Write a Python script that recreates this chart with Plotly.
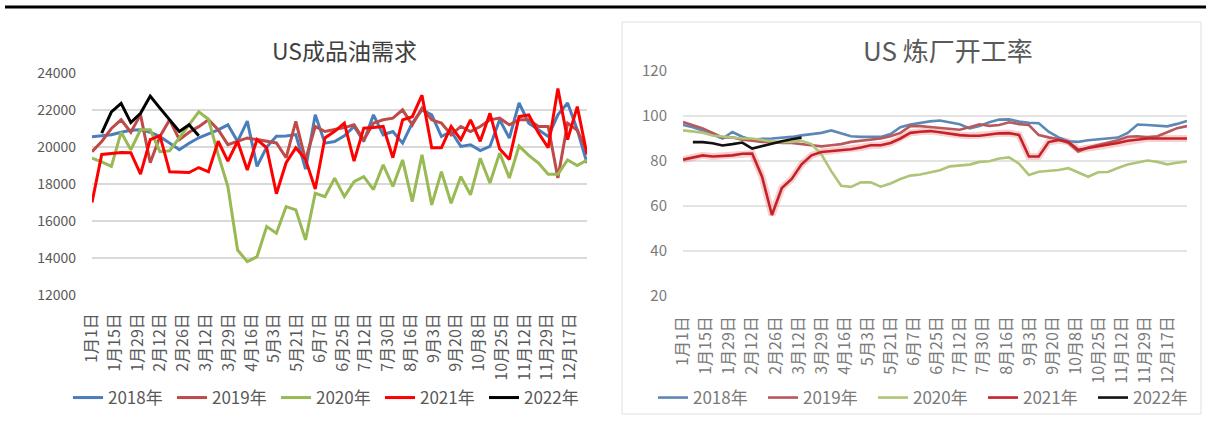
import plotly.graph_objects as go

W, H = 1206, 421

# ---------------- data ----------------
date_labels = ["1月1日", "1月15日", "1月29日", "2月12日", "2月26日", "3月12日", "3月29日",
               "4月16日", "5月3日", "5月21日", "6月7日", "6月25日", "7月12日", "7月30日",
               "8月16日", "9月3日", "9月20日", "10月8日", "10月25日", "11月12日",
               "11月29日", "12月17日"]
series_names = ["2018年", "2019年", "2020年", "2021年", "2022年"]

# US成品油需求
demand_2018 = [20550, 20600, 20660, 20800, 20900, 20930, 20800, 20570, 20200, 19850,
               20200, 20500, 20710, 20930, 21200, 20300, 21400, 18950, 20000, 20580,
               20600, 20670, 18800, 21740, 20210, 20300, 20600, 21110, 20300, 21740,
               20660, 20840, 20210, 21290, 22010, 21740, 20570, 20840, 20030, 20120,
               19810, 20030, 21470, 20480, 22380, 21290, 20930, 20570, 21740, 22380,
               20930, 19130]
demand_2019 = [19750, 20300, 21000, 21470, 20800, 21750, 19150, 20570, 21470, 20400,
               20800, 21100, 21470, 20930, 20130, 20310, 20490, 20400, 20300, 20220,
               19420, 21380, 19310, 21110, 20840, 20930, 21050, 21200, 20390, 21290,
               21470, 21560, 22010, 21200, 22100, 21470, 21290, 20660, 21110, 20840,
               21110, 21470, 21560, 21200, 21470, 21470, 21110, 21110, 18320, 21290,
               20900, 19760]
demand_2020 = [19400, 19200, 18950, 20800, 19850, 20930, 20930, 19750, 19800, 20500,
               21200, 21900, 21500, 19580, 17860, 14430, 13800, 14070, 15700, 15340,
               16780, 16600, 14980, 17500, 17320, 18320, 17320, 18130, 18400, 17700,
               19040, 17870, 19300, 17050, 19580, 16870, 18670, 16960, 18400, 17410,
               19390, 18050, 19670, 18320, 20050, 19550, 19130, 18530, 18530, 19300,
               19000, 19300]
demand_2021 = [17000, 19600, 19650, 19700, 19690, 18530, 20400, 20610, 18660, 18650,
               18620, 18890, 18660, 20310, 19240, 20310, 18760, 20400, 19955, 17470,
               19150, 19955, 19330, 17730, 20490, 20850, 21290, 19240, 21020, 21050,
               21110, 19420, 21470, 21640, 22800, 19955, 19955, 21110, 20400, 21470,
               20310, 21820, 19900, 19330, 21640, 21730, 20760, 19960, 23160, 20400,
               22180, 19600]
demand_2022 = [None, 20755, 21900, 22356, 21320, 21820, 22750, 22100, 21470, 20840,
               21200, 20610] + [None] * 40

# US 炼厂开工率
rate_2018 = [96.0, 95.0, 93.5, 91.8, 90.0, 92.9, 90.8, 89.3, 89.9, 90.0,
             90.3, 90.7, 91.4, 92.0, 92.5, 93.6, 92.2, 91.0, 90.7, 90.7,
             90.7, 92.0, 95.0, 96.2, 97.0, 97.6, 98.0, 97.0, 96.3, 94.5,
             95.6, 97.2, 98.4, 98.5, 97.5, 97.0, 96.8, 93.0, 90.5, 88.8,
             88.5, 89.2, 89.5, 90.0, 90.4, 92.5, 96.2, 96.0, 95.8, 95.4,
             96.5, 97.8]
rate_2019 = [97.3, 96.0, 94.5, 92.5, 90.5, 90.5, 89.5, 89.0, 88.5, 88.5,
             88.0, 88.0, 87.5, 87.0, 86.5, 87.0, 87.5, 88.5, 89.0, 89.5,
             90.0, 91.0, 92.5, 95.5, 95.5, 95.1, 94.8, 94.4, 93.9, 95.0,
             96.3, 95.6, 96.0, 97.2, 96.4, 96.0, 91.5, 90.5, 89.7, 88.0,
             84.2, 86.0, 87.0, 88.3, 89.2, 90.8, 91.0, 90.5, 91.0, 92.8,
             94.6, 95.5]
rate_2020 = [93.6, 93.1, 92.6, 91.3, 90.8, 90.2, 90.0, 90.0, 89.3, 88.7,
             88.4, 88.5, 89.0, 87.5, 83.0, 75.5, 69.0, 68.5, 70.5, 70.5,
             68.6, 70.0, 72.0, 73.5, 74.0, 74.8, 75.9, 77.6, 78.1, 78.4,
             79.6, 79.9, 81.1, 81.6, 78.8, 73.8, 75.2, 75.6, 76.0, 76.8,
             74.9, 73.0, 75.0, 75.1, 76.9, 78.4, 79.3, 80.2, 79.6, 78.5,
             79.2, 79.8]
rate_2021 = [80.6, 81.5, 82.5, 82.0, 82.2, 82.5, 83.2, 83.3, 73.0, 56.0,
             68.0, 72.0, 78.5, 82.5, 84.0, 84.4, 84.8, 85.2, 86.0, 87.0,
             87.0, 88.0, 90.0, 92.5, 93.0, 93.3, 92.8, 92.0, 91.5, 91.2,
             91.2, 91.8, 92.3, 92.4, 91.6, 82.0, 82.0, 88.4, 89.3, 88.5,
             85.0, 85.8, 86.5, 87.0, 88.0, 89.0, 89.5, 90.0, 90.0, 90.0,
             90.0, 90.0]
rate_2022 = [None, 88.4, 88.4, 87.9, 86.9, 87.5, 88.2, 85.5, 86.7, 87.7,
             88.8, 89.7, 90.4] + [None] * 39

left_colors = ["#4A7EBB", "#BE4B48", "#98B954", "#FF0000", "#000000"]
right_colors = ["#5F87B6", "#B9585B", "#AFC476", "#C52128", "#111111"]

FONT = "Noto Sans CJK SC"

# ---------------- pixel geometry ----------------
def px_x(p):
    return p / W

def px_y(p):
    return 1 - p / H

L_X0, L_X1 = 92, 587          # left plot area (pixels)
L_Y0, L_Y1 = 73, 295
L_LAB0, L_LAB1 = 92, 570      # first / last date label centre
R_X0, R_X1 = 683, 1187        # right plot area
R_Y0, R_Y1 = 71, 296
R_LAB0, R_LAB1 = 682, 1167

n = len(demand_2018)
xs = list(range(n))
nl = len(date_labels)
lab_idx = list(range(nl))

fig = go.Figure()

left_data = [demand_2018, demand_2019, demand_2020, demand_2021, demand_2022]
for name, vals, col in zip(series_names, left_data, left_colors):
    fig.add_trace(go.Scatter(x=xs, y=vals, name=name, mode="lines",
                             line=dict(color=col, width=3),
                             xaxis="x", yaxis="y", legend="legend",
                             connectgaps=False))

# glow under the 2021 refinery line
fig.add_trace(go.Scatter(x=xs, y=rate_2021, mode="lines", showlegend=False,
                         line=dict(color="rgba(235,120,120,0.35)", width=7),
                         xaxis="x2", yaxis="y2", hoverinfo="skip"))
right_data = [rate_2018, rate_2019, rate_2020, rate_2021, rate_2022]
for name, vals, col in zip(series_names, right_data, right_colors):
    fig.add_trace(go.Scatter(x=xs, y=vals, name=name, mode="lines",
                             line=dict(color=col, width=2.6),
                             xaxis="x2", yaxis="y2", legend="legend2",
                             connectgaps=False))

# empty traces that register the date-label axes
fig.add_trace(go.Scatter(x=lab_idx, y=[None] * nl, mode="lines", showlegend=False,
                         xaxis="x3", yaxis="y", hoverinfo="skip"))
fig.add_trace(go.Scatter(x=lab_idx, y=[None] * nl, mode="lines", showlegend=False,
                         xaxis="x4", yaxis="y2", hoverinfo="skip"))

tick_font_l = dict(family=FONT, size=14, color="#595959")
tick_font_r = dict(family=FONT, size=15, color="#7a7a7a")
date_font_l = dict(family=FONT, size=16, color="#595959")
date_font_r = dict(family=FONT, size=16, color="#7a7a7a")

left_lab_range = [0, (nl - 1) * (L_X1 - L_X0) / (L_LAB1 - L_LAB0)]
right_lab_range = [0, (nl - 1) * (R_X1 - R_X0) / (R_LAB1 - R_LAB0)]

fig.update_layout(
    width=W, height=H,
    margin=dict(l=0, r=0, t=0, b=0),
    paper_bgcolor="white", plot_bgcolor="white",
    font=dict(family=FONT),
    xaxis=dict(domain=[px_x(L_X0), px_x(L_X1)], range=[0, n - 1], anchor="y",
               showgrid=False, showticklabels=False, zeroline=False, showline=False,
               ticks=""),
    yaxis=dict(domain=[px_y(L_Y1), px_y(L_Y0)], range=[12000, 24000], dtick=2000,
               tickformat="d",
               anchor="x", gridcolor="#D9D9D9", gridwidth=1.5, zeroline=False,
               showline=False, ticks="", tickfont=tick_font_l, ticklabelstandoff=15,
               automargin=False),
    xaxis3=dict(overlaying="x", anchor="y", side="bottom", range=left_lab_range,
                tickmode="array", tickvals=lab_idx, ticktext=date_labels,
                tickangle=-90, tickfont=date_font_l, showgrid=False, zeroline=False,
                showline=False, ticks="", ticklabelstandoff=14, automargin=False),
    xaxis2=dict(domain=[px_x(R_X0), px_x(R_X1)], range=[0, n - 1], anchor="y2",
                showgrid=False, showticklabels=False, zeroline=False, showline=False,
                ticks=""),
    yaxis2=dict(domain=[px_y(R_Y1), px_y(R_Y0)], range=[20, 120], dtick=20,
                anchor="x2", gridcolor="#E4E4E4", gridwidth=1.5, zeroline=False,
                showline=False, ticks="", tickfont=tick_font_r, ticklabelstandoff=15,
                automargin=False),
    xaxis4=dict(overlaying="x2", anchor="y2", side="bottom", range=right_lab_range,
                tickmode="array", tickvals=lab_idx, ticktext=date_labels,
                tickangle=-90, tickfont=date_font_r, showgrid=False, zeroline=False,
                showline=False, ticks="", ticklabelstandoff=16, automargin=False),
    legend=dict(orientation="h", x=px_x(68), y=px_y(398), xanchor="left",
                yanchor="middle", font=dict(family=FONT, size=17, color="#595959"),
                entrywidth=59, entrywidthmode="pixels", bgcolor="rgba(0,0,0,0)",
                itemwidth=30, tracegroupgap=0),
    legend2=dict(orientation="h", x=px_x(653), y=px_y(398), xanchor="left",
                 yanchor="middle", font=dict(family=FONT, size=17, color="#7a7a7a"),
                 entrywidth=65, entrywidthmode="pixels", bgcolor="rgba(0,0,0,0)",
                 itemwidth=30, tracegroupgap=0),
    showlegend=True,
    annotations=[
        dict(text="US成品油需求", x=px_x(345), y=px_y(50), xref="paper", yref="paper",
             showarrow=False, xanchor="center", yanchor="middle",
             font=dict(family=FONT, size=23, color="#404040")),
        dict(text="US 炼厂开工率", x=px_x(948), y=px_y(50), xref="paper", yref="paper",
             showarrow=False, xanchor="center", yanchor="middle",
             font=dict(family=FONT, size=26, color="#595959")),
    ],
    shapes=[
        dict(type="line", xref="paper", yref="paper", x0=px_x(5), x1=1,
             y0=px_y(7), y1=px_y(7), line=dict(color="black", width=3)),
        dict(type="rect", xref="paper", yref="paper", x0=px_x(622), x1=px_x(1201),
             y0=px_y(414), y1=px_y(22), line=dict(color="#E0E0E0", width=1)),
    ],
)

fig.write_html("out.html")
